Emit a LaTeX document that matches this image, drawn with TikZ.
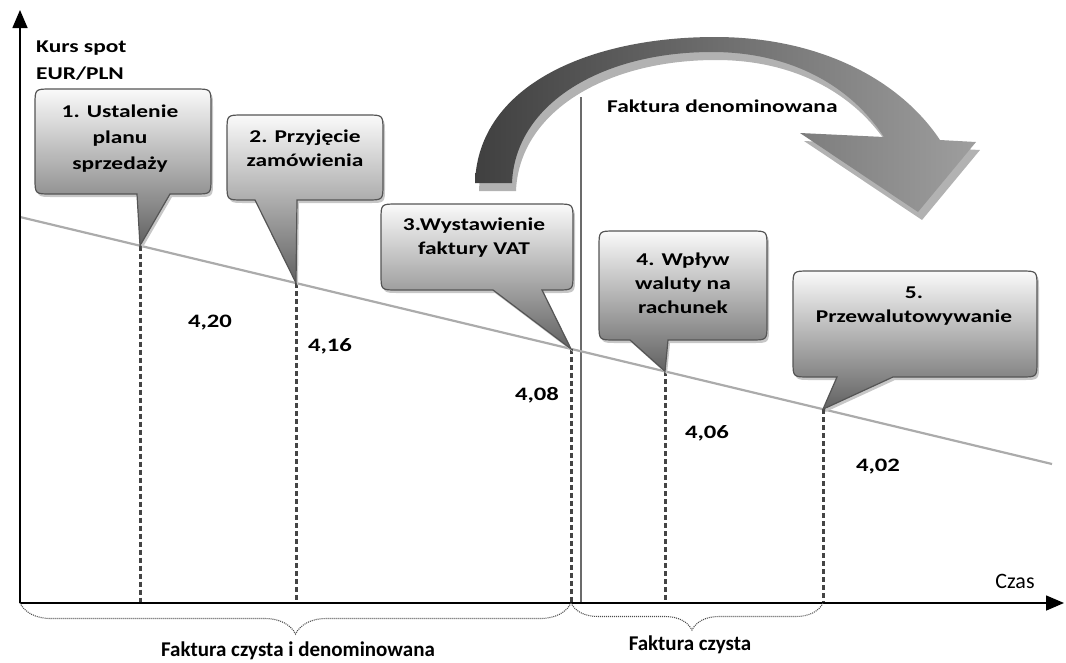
\documentclass[tikz,border=0pt]{standalone}
\usepackage{fontspec}
\setmainfont{Carlito}
\newfontfamily\wfont[FakeStretch=1.3]{Carlito}
\usetikzlibrary{arrows.meta,decorations.pathreplacing}
\definecolor{outl}{HTML}{555555}
\definecolor{trend}{HTML}{ABABAB}
\definecolor{dashc}{HTML}{444444}
\newcommand\mycallout[8]{%
  \fill[black!22,shift={(2,3)}] (#1,{#2+16}) .. controls (#1,#2) .. ({#1+16},#2) -- ({#3-16},#2) .. controls (#3,#2) .. (#3,{#2+16}) -- (#3,{#4-16}) .. controls (#3,#4) .. ({#3-16},#4) -- (#6,#4) -- (#7,#8) -- (#5,#4) -- ({#1+16},#4) .. controls (#1,#4) .. (#1,{#4-16}) -- cycle;
  \draw[outl,line width=1.2pt,top color=black!2,bottom color=black!62] (#1,{#2+16}) .. controls (#1,#2) .. ({#1+16},#2) -- ({#3-16},#2) .. controls (#3,#2) .. (#3,{#2+16}) -- (#3,{#4-16}) .. controls (#3,#4) .. ({#3-16},#4) -- (#6,#4) -- (#7,#8) -- (#5,#4) -- ({#1+16},#4) .. controls (#1,#4) .. (#1,{#4-16}) -- cycle;
}
\begin{document}
\begin{tikzpicture}[x=1pt,y=-1pt,
  lbl/.style={font=\wfont\bfseries\fontsize{18}{26}\selectfont,align=center,inner sep=0pt},
  lbls/.style={font=\wfont\bfseries\fontsize{18}{24}\selectfont,align=center,inner sep=0pt},
  val/.style={font=\wfont\bfseries\fontsize{19}{22}\selectfont,inner sep=0pt},
  plain/.style={font=\fontsize{22}{26}\selectfont,inner sep=0pt},
  bott/.style={font=\bfseries\fontsize{21}{26}\selectfont,inner sep=0pt},
  axis/.style={line width=1.6pt,-{Triangle[length=18pt,width=15pt]}},
  vdash/.style={dashc,line width=3pt,dash pattern=on 5pt off 3pt},
  bracestyle/.style={decorate,line width=1.1pt,black!70,dash pattern=on 1pt off 1pt}]
\useasboundingbox (0,0) rectangle (1066,662);

% curved arrow
\fill[black!30,shift={(4,8)}] (475,183) .. controls (478,85) and (590,37) .. (715,37) .. controls (820,37) and (900,80) .. (940,140) -- (976,142) -- (918,212) -- (800,133) -- (884,137) .. controls (850,85) and (790,52) .. (712,52) .. controls (600,52) and (515,105) .. (512,183) -- cycle;
\shade[left color=black!75,right color=black!38] (475,183) .. controls (478,85) and (590,37) .. (715,37) .. controls (820,37) and (900,80) .. (940,140) -- (976,142) -- (918,212) -- (800,133) -- (884,137) .. controls (850,85) and (790,52) .. (712,52) .. controls (600,52) and (515,105) .. (512,183) -- cycle;

% coordinates
\coordinate (O) at (20,603);
\coordinate (ytip) at (20,10);
\coordinate (xtip) at (1064,603);
\coordinate (tA) at (20,217);
\coordinate (tB) at (1052,464);
\coordinate (p1) at (140,245.7);
\coordinate (p2) at (296,283.0);
\coordinate (p3) at (571,348.9);
\coordinate (p4) at (665,371.3);
\coordinate (p5) at (823,409.2);
\coordinate (b1) at (140,603);
\coordinate (b2) at (296,603);
\coordinate (b3) at (571,603);
\coordinate (b4) at (665,603);
\coordinate (b5) at (823,603);
\coordinate (sepT) at (581,97);
\coordinate (sepB) at (581,603);

% separator
\draw[black!58,line width=2.6pt] (sepT) -- (sepB);

% trend line
\draw[trend,line width=2.2pt] (tA) -- (tB);

% dashed verticals
\foreach \i in {1,...,5} \draw[vdash] (p\i) -- (b\i);

% axes
\draw[axis] (O) -- (ytip);
\draw[axis] (O) -- (xtip);

% callouts
\mycallout{35}{89}{211}{194}{137}{170}{140}{245.7}
\mycallout{227}{115}{383}{200}{255}{297}{296}{283.0}
\mycallout{381}{204}{573}{290}{493}{542}{571}{348.9}
\mycallout{599}{231}{767}{340}{630}{668}{665}{371.3}
\mycallout{793}{271}{1037}{377}{837}{893}{823}{409.2}

% callout texts
\node[lbl] (c1) at (120,139) {1. Ustalenie\\planu\\sprzedaży};
\node[lbls] (c2) at (305,148) {2. Przyjęcie\\zamówienia};
\node[lbls] (c3) at (474,238) {3.Wystawienie\\faktury VAT};
\node[lbls] (c4) at (683,283) {4. Wpływ\\waluty na\\rachunek};
\node[lbls] (c5) at (914,306) {5.\\Przewalutowywanie};

% axis labels
\node[lbl,anchor=west] (ky1) at (36,48) {Kurs spot};
\node[lbl,anchor=west] (ky2) at (36,74) {EUR/PLN};
\node[plain] (czas) at (1015,581) {Czas};
\node[lbl,anchor=west] (fd) at (607,106) {Faktura denominowana};

% values
\node[val] (v1) at (210,323) {4,20};
\node[val] (v2) at (330,346) {4,16};
\node[val] (v3) at (537,395) {4,08};
\node[val] (v4) at (707,433) {4,06};
\node[val] (v5) at (878,467) {4,02};

% braces
\draw[bracestyle,decoration={brace,mirror,amplitude=31pt,aspect=0.5}] (O) -- (b3);
\draw[bracestyle,decoration={brace,mirror,amplitude=27pt,aspect=0.48}] (b3) -- (b5);
\node[bott] (br1) at (298,651) {Faktura czysta i denominowana};
\node[bott] (br2) at (690,645) {Faktura czysta};
\end{tikzpicture}
\end{document}
